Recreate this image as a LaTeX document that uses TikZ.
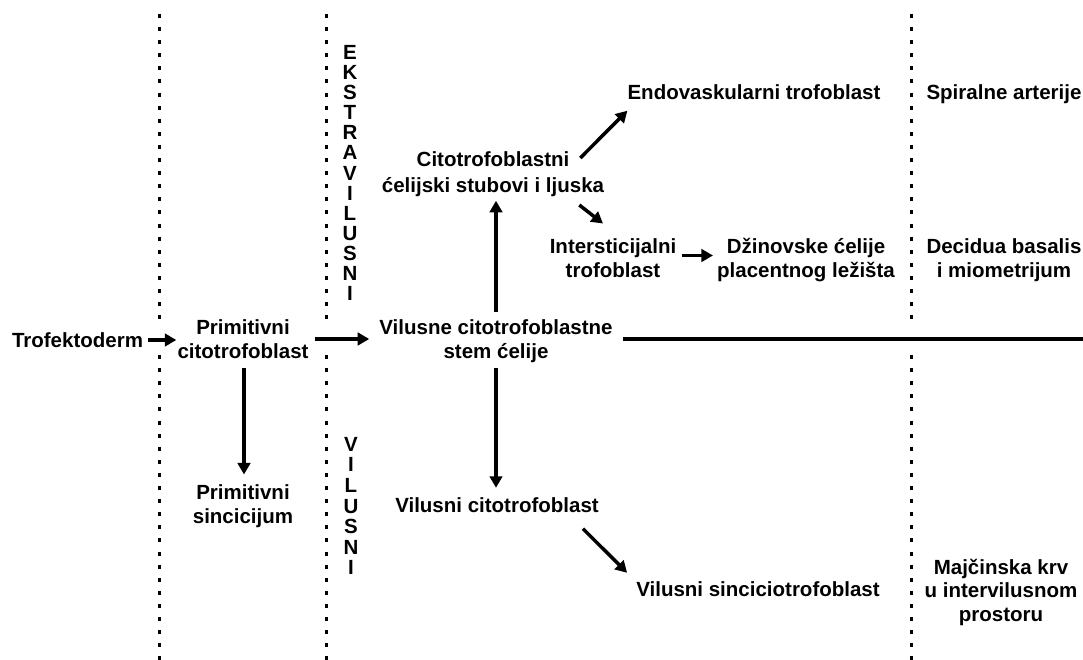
\documentclass[tikz,border=0pt]{standalone}
\usepackage{fontspec}
\setmainfont{Liberation Sans}
\usetikzlibrary{arrows.meta}
\begin{document}
\begin{tikzpicture}[x=1pt,y=-1pt,
  lbl/.style={font=\fontsize{20.5}{23.5}\selectfont\bfseries, align=center, inner sep=0pt},
  vlbl/.style={font=\fontsize{20.5}{20.1}\selectfont\bfseries, align=center, inner sep=0pt},
  arr/.style={line width=3.5pt, -{Triangle[length=11.5pt,width=12.5pt]}},
  bar/.style={line width=3.5pt},
  dotline/.style={line width=3pt, dash pattern=on 4pt off 9.1pt}]
\useasboundingbox (0,0) rectangle (1083,660);

% dotted separators
\foreach \xx in {159,326,911}{
  \draw[dotline] (\xx,14) -- (\xx,322);
  \draw[dotline] (\xx,355) -- (\xx,662);
}

% nodes
\node[lbl] (trof) at (77.5,340) {Trofektoderm};
\node[lbl] (primc) at (243,339) {Primitivni\\citotrofoblast};
\node[lbl] (stem) at (496,341) {Vilusne citotrofoblastne\\stem ćelije};
\node[lbl, font=\fontsize{20.5}{26}\selectfont\bfseries] (stub) at (493,174) {Citotrofoblastni\\ćelijski stubovi i ljuska};
\node[lbl] (endo) at (754,92) {Endovaskularni trofoblast};
\node[lbl] (inter) at (613,258) {Intersticijalni\\trofoblast};
\node[lbl] (dzin) at (806,260) {Džinovske ćelije\\placentnog ležišta};
\node[lbl] (spir) at (1004,94) {Spiralne arterije};
\node[lbl] (decid) at (1004,260) {Decidua basalis\\i miometrijum};
\node[lbl] (majc) at (1001,592) {Majčinska krv\\u intervilusnom\\prostoru};
\node[lbl] (psinc) at (243,506) {Primitivni\\sincicijum};
\node[lbl] (vcito) at (497,505) {Vilusni citotrofoblast};
\node[lbl] (vsinc) at (758,589) {Vilusni sinciciotrofoblast};
\node[vlbl] (ekstra) at (350,173) {E\\K\\S\\T\\R\\A\\V\\I\\L\\U\\S\\N\\I};
\node[vlbl, font=\fontsize{20.5}{20.6}\selectfont\bfseries] (vil) at (351,506) {V\\I\\L\\U\\S\\N\\I};
\coordinate (rend) at (1083,339);

% connectors
\draw[arr] ([xshift=5pt]trof.east) -- ([xshift=-1pt,yshift=-1pt]primc.west);
\draw[arr] ([xshift=6pt]primc.east) -- ([xshift=-10pt,yshift=2pt]stem.west);
\draw[bar] ([xshift=10pt,yshift=2pt]stem.east) -- (rend);
\draw[arr] ([yshift=7pt]stem.north) -- ([yshift=-4pt]stem.north |- stub.south);
\draw[arr] ([xshift=-24pt,yshift=16pt]stub.east) -- ([yshift=-11pt]endo.south west);
\draw[arr] ([xshift=-25pt,yshift=-31pt]stub.east) -- ([xshift=-10pt,yshift=15pt]inter.north);
\draw[arr] ([xshift=6pt,yshift=2.5pt]inter.east) -- ([xshift=-4pt,yshift=4.5pt]dzin.west);
\draw[arr] ([xshift=1pt,yshift=-10pt]primc.south) -- ([xshift=1pt,yshift=10pt]psinc.north);
\draw[arr] ([yshift=-5pt]stem.south) -- ([yshift=9.5pt]stem.south |- vcito.north);
\draw[arr] ([xshift=-16pt,yshift=-16pt]vcito.south east) -- ([xshift=-9pt,yshift=8.5pt]vsinc.north west);
\end{tikzpicture}
\end{document}
